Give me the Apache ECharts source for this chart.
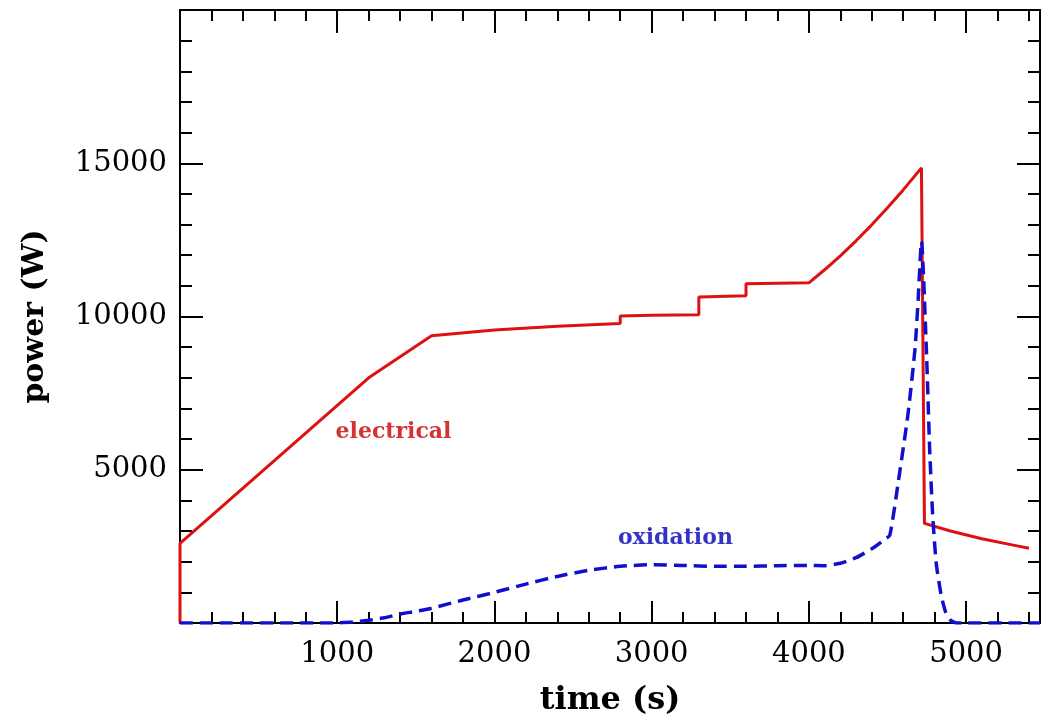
<!DOCTYPE html>
<html>
<head>
<meta charset="utf-8">
<script src="https://cdn.jsdelivr.net/npm/echarts@6/dist/echarts.min.js"></script>
<style>
html,body{margin:0;padding:0;background:#fff;}
#chart{width:1043px;height:722px;}
</style>
</head>
<body>
<div id="chart"></div>
<script>
// time (s), power (W)
const electricalTime  = [0, 0, 1200, 1600, 2000, 2400, 2800, 2800, 3000, 3300, 3300, 3600, 3600, 4000, 4100, 4200, 4300, 4400, 4500, 4600, 4716, 4735, 4900, 5100, 5300, 5400];
const electricalPower = [0, 2600, 8000, 9370, 9560, 9680, 9770, 10020, 10040, 10060, 10640, 10680, 11070, 11100, 11525, 11980, 12470, 12990, 13545, 14130, 14850, 3250, 3000, 2750, 2540, 2440];

const oxidationTime  = [0, 900, 1000, 1100, 1200, 1300, 1400, 1500, 1600, 1800, 2000, 2200, 2400, 2600, 2800, 3000, 3200, 3400, 3600, 3800, 4000, 4100, 4200, 4300, 4400, 4480, 4515, 4570, 4630, 4675, 4695, 4716, 4747, 4768, 4787, 4810, 4840, 4870, 4900, 4940, 5470];
const oxidationPower = [0, 0, 5, 30, 90, 170, 290, 380, 480, 750, 1000, 1270, 1520, 1720, 1850, 1900, 1880, 1850, 1850, 1870, 1880, 1870, 1950, 2130, 2420, 2720, 2870, 4650, 6800, 8950, 10550, 12450, 8950, 5700, 3550, 1950, 950, 350, 100, 0, 0];

const annotationText  = ['electrical', 'oxidation'];
const annotationTime  = [1358, 3151];
const annotationPower = [6217, 2775];

const xMajorTicks = [1000, 2000, 3000, 4000, 5000];
const yMajorTicks = [5000, 10000, 15000];

const X_MIN = 0, X_MAX = 5470, Y_MIN = 0, Y_MAX = 20000;
const RED = '#dd1111', BLUE = '#1010cc';
const RED_TEXT = '#c80000', BLUE_TEXT = '#0000b8';
const SERIF = '"DejaVu Serif", "Liberation Serif", serif';

const chart = echarts.init(document.getElementById('chart'), null, {renderer: 'canvas'});

function xAxisDef(pos, interval, tickLen, showLabel, showLine) {
  return {
    type: 'value', position: pos, min: X_MIN, max: X_MAX, interval: interval,
    axisLine: {show: showLine, onZero: false, lineStyle: {color: '#000', width: 2}},
    axisTick: {show: true, inside: true, length: tickLen, lineStyle: {color: '#000', width: 2}},
    axisLabel: {show: showLabel, margin: 17, color: '#000', fontFamily: SERIF, fontSize: 29,
      formatter: v => xMajorTicks.includes(v) ? String(v) : ''},
    splitLine: {show: false},
    name: showLabel ? 'time (s)' : '', nameLocation: 'middle', nameGap: 62,
    nameTextStyle: {color: '#000', fontFamily: SERIF, fontWeight: 'bold', fontSize: 32}
  };
}
function yAxisDef(pos, showLabel) {
  return {
    type: 'value', position: pos, min: Y_MIN, max: Y_MAX, interval: 5000,
    axisLine: {show: true, onZero: false, lineStyle: {color: '#000', width: 2}},
    axisTick: {show: true, inside: true, length: 23, lineStyle: {color: '#000', width: 2}},
    minorTick: {show: true, splitNumber: 5, length: 12, lineStyle: {color: '#000', width: 2}},
    axisLabel: {show: showLabel, margin: 13, color: '#000', fontFamily: SERIF, fontSize: 29,
      formatter: v => yMajorTicks.includes(v) ? String(v) : ''},
    splitLine: {show: false}, minorSplitLine: {show: false},
    name: showLabel ? 'power (W)' : '', nameLocation: 'middle', nameGap: 130, nameRotate: 90,
    nameTextStyle: {color: '#000', fontFamily: SERIF, fontWeight: 'bold', fontSize: 30}
  };
}

const option = {
  backgroundColor: '#fff',
  animation: false,
  grid: {left: 180, top: 10, width: 866, height: 617, containLabel: false},
  xAxis: [
    xAxisDef('bottom', 1000, 22, true, true),
    xAxisDef('bottom', 200, 11, false, false),
    xAxisDef('top', 1000, 23, false, true),
    xAxisDef('top', 200, 11, false, false)
  ],
  yAxis: [yAxisDef('left', true), yAxisDef('right', false)],
  series: [
    {
      type: 'line', name: 'electrical', xAxisIndex: 0, yAxisIndex: 0,
      data: electricalTime.map((t, i) => [t, electricalPower[i]]),
      showSymbol: false, symbol: 'none', smooth: false, clip: true,
      lineStyle: {color: RED, width: 3}, z: 3
    },
    {
      type: 'line', name: 'oxidation', xAxisIndex: 0, yAxisIndex: 0,
      data: oxidationTime.map((t, i) => [t, oxidationPower[i]]),
      showSymbol: false, symbol: 'none', smooth: 0.2, clip: true,
      lineStyle: {color: BLUE, width: 3.5, type: [13, 7]}, z: 4
    },
    {
      type: 'scatter', xAxisIndex: 0, yAxisIndex: 0, symbolSize: 0,
      data: annotationText.map((s, i) => ({
        value: [annotationTime[i], annotationPower[i]],
        label: {show: true, position: 'inside', formatter: s,
          color: i === 0 ? RED_TEXT : BLUE_TEXT, fontFamily: SERIF, fontWeight: 'bold', fontSize: 22}
      })),
      silent: true, z: 5
    }
  ]
};
chart.setOption(option);
</script>
</body>
</html>
